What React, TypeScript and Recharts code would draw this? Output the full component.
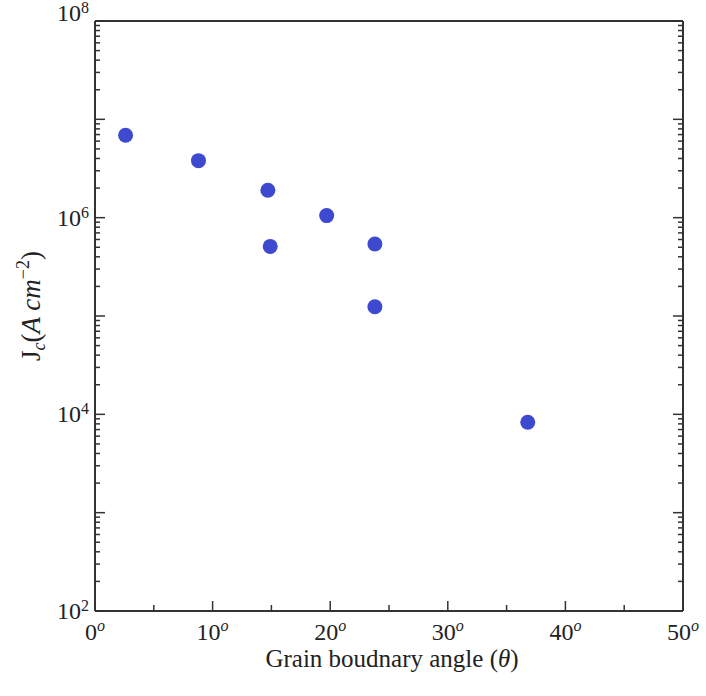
import { ScatterChart, Scatter, XAxis, YAxis } from 'recharts'

// grain boundary angle (deg) and critical current density (A/cm^2)
const angles = [2.6, 8.8, 14.7, 19.7, 14.9, 23.8, 23.8, 36.8]
const currents = [6.9e6, 3.8e6, 1.9e6, 1.05e6, 5.1e5, 5.4e5, 1.24e5, 8.3e3]

const xTicks = [0, 5, 10, 15, 20, 25, 30, 35, 40, 45, 50]
const xLabelled = [0, 10, 20, 30, 40, 50]
const yMajor = [1e2, 1e3, 1e4, 1e5, 1e6, 1e7, 1e8]
const yMinorFactors = [2, 3, 4, 5, 6, 7, 8, 9]

const yTicks: number[] = []
yMajor.forEach((m, i) => {
  yTicks.push(m)
  if (i < yMajor.length - 1) yMinorFactors.forEach((k) => yTicks.push(k * m))
})

const data = angles.map((a, i) => ({ angle: a, jc: currents[i] }))

const FONT = '"Liberation Serif", "DejaVu Serif", serif'
const INK = '#333'
const DOT = '#3d49cf'

const isMajorY = (v: number) => yMajor.includes(v)

function LeftTick(props: any) {
  const { x, y, payload } = props
  const v = payload.value
  const exp = Math.round(Math.log10(v))
  const major = isMajorY(v)
  return (
    <g>
      <line x1={x} x2={x + (major ? 10 : 5)} y1={y} y2={y} stroke={INK} strokeWidth={1.5} />
      {major && exp % 2 === 0 && (
        <text x={x - 6} y={exp === 8 ? y : y + 8} textAnchor="end" fontFamily={FONT} fontSize={24} fill="#222">
          10
          <tspan dy={-8} fontSize={16}>{exp}</tspan>
        </text>
      )}
    </g>
  )
}

function RightTick(props: any) {
  const { x, y, payload } = props
  const major = isMajorY(payload.value)
  return <line x1={x} x2={x - (major ? 10 : 5)} y1={y} y2={y} stroke={INK} strokeWidth={1.5} />
}

function BottomTick(props: any) {
  const { x, y, payload } = props
  const v = payload.value
  const major = xLabelled.includes(v)
  return (
    <g>
      <line x1={x} x2={x} y1={y} y2={y - (major ? 10 : 6)} stroke={INK} strokeWidth={1.5} />
      {major && (
        <text x={x} y={y + 29} textAnchor="middle" fontFamily={FONT} fontSize={24} fill="#222">
          {v}
          <tspan dy={-9} fontSize={16} fontStyle="italic">o</tspan>
        </text>
      )}
    </g>
  )
}

function TopTick(props: any) {
  const { x, y, payload } = props
  const major = xLabelled.includes(payload.value)
  return <line x1={x} x2={x} y1={y} y2={y + (major ? 10 : 5)} stroke={INK} strokeWidth={1.5} />
}

function XTitle(props: any) {
  const { viewBox } = props
  const cx = viewBox.x + viewBox.width / 2 + 3
  return (
    <text x={cx} y={viewBox.y + 56} textAnchor="middle" fontFamily={FONT} fontSize={25} fill="#222">
      Grain boudnary angle (<tspan fontStyle="italic">θ</tspan>)
    </text>
  )
}

function YTitle(props: any) {
  const { viewBox } = props
  const cx = 40
  const cy = viewBox.y + viewBox.height / 2 - 10
  return (
    <text
      x={cx}
      y={cy}
      transform={`rotate(-90, ${cx}, ${cy})`}
      textAnchor="middle"
      fontFamily={FONT}
      fontSize={27}
      fill="#222"
    >
      J
      <tspan dy={5} fontSize={18} fontStyle="italic">c</tspan>
      <tspan dy={-5}>(</tspan>
      <tspan fontStyle="italic">A  cm</tspan>
      <tspan dy={-11} fontSize={18}>−2</tspan>
      <tspan dy={11}>)</tspan>
    </text>
  )
}

export default function App() {
  return (
    <div style={{ position: 'absolute', left: 0, top: 0, background: '#fff' }}>
      <ScatterChart width={706} height={696} margin={{ top: 20, right: 22, bottom: 0, left: 0 }}>
        <XAxis
          xAxisId="bottom"
          dataKey="angle"
          type="number"
          domain={[0, 50]}
          ticks={xTicks}
          interval={0}
          height={85}
          tickSize={0}
          tickMargin={0}
          tickLine={false}
          tick={<BottomTick />}
          axisLine={{ stroke: INK, strokeWidth: 2 }}
          label={<XTitle />}
        />
        <XAxis
          xAxisId="top"
          orientation="top"
          type="number"
          domain={[0, 50]}
          ticks={xTicks}
          interval={0}
          height={1}
          tickSize={0}
          tickMargin={0}
          tickLine={false}
          tick={<TopTick />}
          axisLine={{ stroke: INK, strokeWidth: 2 }}
        />
        <YAxis
          yAxisId="left"
          dataKey="jc"
          type="number"
          scale="log"
          domain={[1e2, 1e8]}
          allowDataOverflow
          ticks={yTicks}
          interval={0}
          width={95}
          tickSize={0}
          tickMargin={0}
          tickLine={false}
          tick={<LeftTick />}
          axisLine={{ stroke: INK, strokeWidth: 2 }}
          label={<YTitle />}
        />
        <YAxis
          yAxisId="right"
          orientation="right"
          type="number"
          scale="log"
          domain={[1e2, 1e8]}
          allowDataOverflow
          ticks={yTicks}
          interval={0}
          width={1}
          tickSize={0}
          tickMargin={0}
          tickLine={false}
          tick={<RightTick />}
          axisLine={{ stroke: INK, strokeWidth: 2 }}
        />
        <Scatter
          data={data}
          xAxisId="bottom"
          yAxisId="left"
          isAnimationActive={false}
          shape={(p: any) => <circle cx={p.cx} cy={p.cy} r={7.5} fill={DOT} />}
        />
      </ScatterChart>
    </div>
  )
}
